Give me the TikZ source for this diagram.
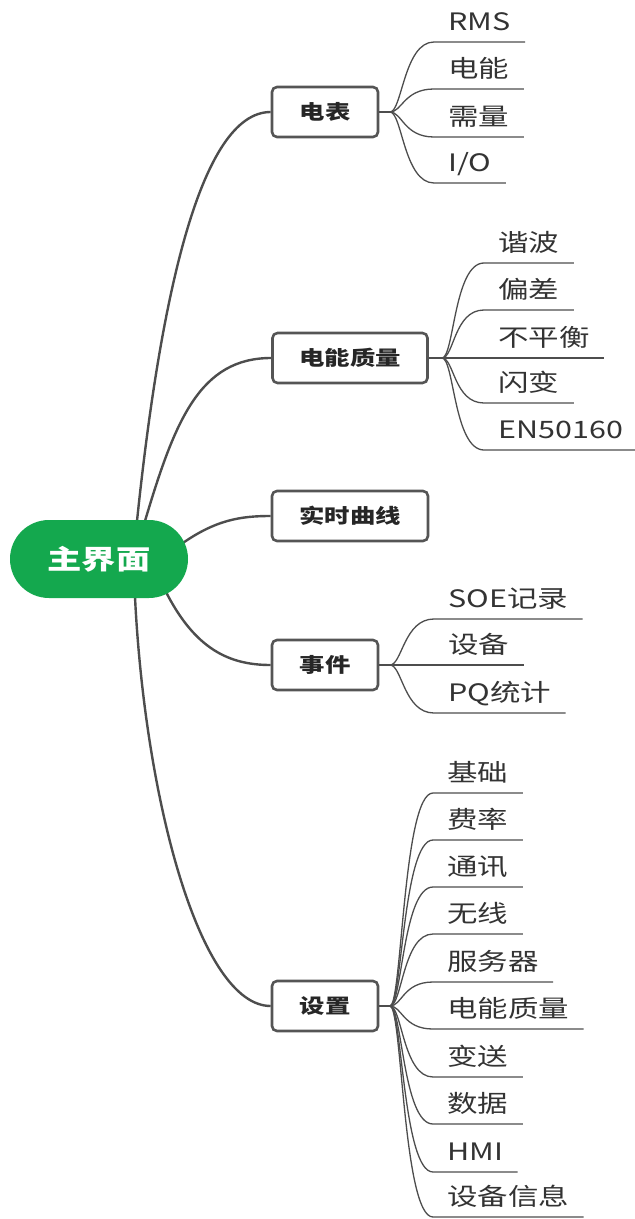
\documentclass[tikz,border=0pt]{standalone}
\usepackage{fontspec}
\setmainfont{Noto Sans CJK SC}[FakeStretch=1.27]
\pgfdeclarelayer{bg}
\pgfsetlayers{bg,main}
\definecolor{rootgreen}{HTML}{14A84E}
\definecolor{linegray}{HTML}{4D4D4D}
\definecolor{boxgray}{HTML}{555555}
\definecolor{txtgray}{HTML}{333333}
\tikzset{
  rootnode/.style={fill=rootgreen, draw=none, rounded corners=19.5pt,
    minimum width=89pt, minimum height=39pt, inner sep=0pt,
    text=white, font=\fontsize{13.5}{16}\selectfont\bfseries},
  boxnode/.style={draw=boxgray, line width=1.3pt, fill=white, rounded corners=2.5pt,
    minimum height=25pt, inner sep=0pt, text=black!85,
    font=\fontsize{10}{12}\selectfont\bfseries},
  leafnode/.style={anchor=south west, inner xsep=7pt, inner ysep=5.5pt,
    text depth=0pt, text=txtgray, font=\fontsize{12}{14}\selectfont},
  mainline/.style={draw=linegray, line width=1.2pt},
  leafline/.style={draw=linegray, line width=0.65pt}
}
\begin{document}
\begin{tikzpicture}[x=0.5pt,y=-0.5pt]
\useasboundingbox (0,0) rectangle (635,1219);
% root and branch boxes
\node[rootnode] (root) at (99,559) {主界面};
\node[boxnode, minimum width=53pt] (b1) at (325,112) {电表};
\node[boxnode, minimum width=77.5pt] (b2) at (350,358) {电能质量};
\node[boxnode, minimum width=78pt] (b3) at (350,516) {实时曲线};
\node[boxnode, minimum width=53pt] (b4) at (325,665) {事件};
\node[boxnode, minimum width=53pt] (b5) at (325,1006) {设置};
% root connectors
\coordinate (r1) at (137,521);
\coordinate (r2) at (145,521);
\coordinate (r3) at (180,545);
\coordinate (r4) at (165,590);
\coordinate (r5) at (135,597);
\begin{pgfonlayer}{bg}
\draw[mainline] (r1) .. controls (160,300) and (200,112) .. (b1.west);
\draw[mainline] (r2) .. controls (175,420) and (200,358) .. (b2.west);
\draw[mainline] (r3) .. controls (215,520) and (240,516) .. (b3.west);
\draw[mainline] (r4) .. controls (195,650) and (230,665) .. (b4.west);
\draw[mainline] (r5) .. controls (145,800) and (200,1006) .. (b5.west);
\end{pgfonlayer}
% forks
\coordinate (f1) at (390,112);
\coordinate (f2) at (442,358);
\coordinate (f4) at (390,665);
\coordinate (f5) at (390,1006);
\draw[leafline] (b1.east) -- (f1);
\draw[leafline] (b2.east) -- (f2);
\draw[leafline] (b4.east) -- (f4);
\draw[leafline] (b5.east) -- (f5);
% leaves of 电表
\node[leafnode] (l11) at (434,42) {RMS};
\node[leafnode] (l12) at (434,89) {电能};
\node[leafnode] (l13) at (434,137) {需量};
\node[leafnode] (l14) at (434,183) {I/O};
\foreach \l in {l11,l12,l13,l14}
  \draw[leafline] (f1) .. controls +(12,0) and +(-30,0) .. (\l.south west) -- (\l.south east);
% leaves of 电能质量
\node[leafnode] (l21) at (484,263) {谐波};
\node[leafnode] (l22) at (484,310) {偏差};
\node[leafnode] (l23) at (484,358) {不平衡};
\node[leafnode] (l24) at (484,403) {闪变};
\node[leafnode] (l25) at (484,450) {EN50160};
\foreach \l in {l21,l22,l23,l24,l25}
  \draw[leafline] (f2) .. controls +(12,0) and +(-30,0) .. (\l.south west) -- (\l.south east);
% leaves of 事件
\node[leafnode] (l41) at (434,619) {SOE记录};
\node[leafnode] (l42) at (434,665) {设备};
\node[leafnode] (l43) at (434,713) {PQ统计};
\foreach \l in {l41,l42,l43}
  \draw[leafline] (f4) .. controls +(12,0) and +(-30,0) .. (\l.south west) -- (\l.south east);
% leaves of 设置
\node[leafnode] (l51) at (433,793) {基础};
\node[leafnode] (l52) at (433,840) {费率};
\node[leafnode] (l53) at (433,887) {通讯};
\node[leafnode] (l54) at (433,934) {无线};
\node[leafnode] (l55) at (433,982) {服务器};
\node[leafnode] (l56) at (433,1029) {电能质量};
\node[leafnode] (l57) at (433,1077) {变送};
\node[leafnode] (l58) at (433,1124) {数据};
\node[leafnode] (l59) at (433,1172) {HMI};
\node[leafnode] (l50) at (433,1217) {设备信息};
\foreach \l in {l51,l52,l53,l54,l55,l56,l57,l58,l59,l50}
  \draw[leafline] (f5) .. controls +(12,0) and +(-30,0) .. (\l.south west) -- (\l.south east);
\end{tikzpicture}
\end{document}
